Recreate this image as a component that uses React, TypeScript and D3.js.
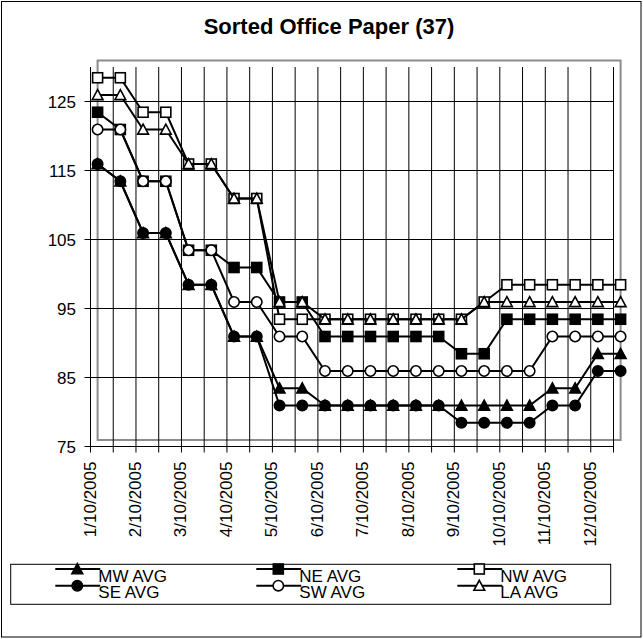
import React from "react";
import * as d3 from "d3";

const categories = [
  "1/10/2005", "1/25/2005", "2/10/2005", "2/25/2005", "3/10/2005", "3/25/2005",
  "4/10/2005", "4/25/2005", "5/10/2005", "5/25/2005", "6/10/2005", "6/25/2005",
  "7/10/2005", "7/25/2005", "8/10/2005", "8/25/2005", "9/10/2005", "9/25/2005",
  "10/10/2005", "10/25/2005", "11/10/2005", "11/25/2005", "12/10/2005", "12/25/2005",
];
const yTicks = [75, 85, 95, 105, 115, 125];

const mwAvg = [115, 112.5, 105, 105, 97.5, 97.5, 90, 90, 82.5, 82.5, 80, 80, 80, 80, 80, 80, 80, 80, 80, 80, 82.5, 82.5, 87.5, 87.5];
const neAvg = [122.5, 120, 112.5, 112.5, 102.5, 102.5, 100, 100, 95, 95, 90, 90, 90, 90, 90, 90, 87.5, 87.5, 92.5, 92.5, 92.5, 92.5, 92.5, 92.5];
const nwAvg = [127.5, 127.5, 122.5, 122.5, 115, 115, 110, 110, 92.5, 92.5, 92.5, 92.5, 92.5, 92.5, 92.5, 92.5, 92.5, 95, 97.5, 97.5, 97.5, 97.5, 97.5, 97.5];
const seAvg = [115, 112.5, 105, 105, 97.5, 97.5, 90, 90, 80, 80, 80, 80, 80, 80, 80, 80, 77.5, 77.5, 77.5, 77.5, 80, 80, 85, 85];
const swAvg = [120, 120, 112.5, 112.5, 102.5, 102.5, 95, 95, 90, 90, 85, 85, 85, 85, 85, 85, 85, 85, 85, 85, 90, 90, 90, 90];
const laAvg = [125, 125, 120, 120, 115, 115, 110, 110, 95, 95, 92.5, 92.5, 92.5, 92.5, 92.5, 92.5, 92.5, 95, 95, 95, 95, 95, 95, 95];

const seriesNames = ["MW AVG", "NE AVG", "NW AVG", "SE AVG", "SW AVG", "LA AVG"];
const seriesValues = [mwAvg, neAvg, nwAvg, seAvg, swAvg, laAvg];
const seriesShapes = ["triangle", "square", "square", "circle", "circle", "triangle"];
const seriesFilled = [true, true, false, true, false, false];

const FONT = "'Liberation Sans', Arial, Helvetica, sans-serif";

function Marker({ shape, filled, cx, cy }: { shape: string; filled: boolean; cx: number; cy: number }) {
  const fill = filled ? "#000" : "#fff";
  const sw = 1.6;
  if (shape === "square") {
    const s = 10;
    return <rect x={cx - s / 2} y={cy - s / 2} width={s} height={s} fill={fill} stroke="#000" strokeWidth={sw} />;
  }
  if (shape === "circle") {
    return <circle cx={cx} cy={cy} r={5.2} fill={fill} stroke="#000" strokeWidth={sw} />;
  }
  const h = 5.4;
  const d = `M${cx},${cy - h}L${cx + h},${cy + h - 0.8}L${cx - h},${cy + h - 0.8}Z`;
  return <path d={d} fill={fill} stroke="#000" strokeWidth={sw} strokeLinejoin="miter" />;
}

export default function App() {
  const W = 643;
  const H = 639;
  const x = d3.scalePoint<string>().domain(categories).range([97.6, 620.6]);
  const y = d3.scaleLinear().domain([75, 130]).range([440, 60.5]);
  const gdx = -7.1;
  const gdy = 6.5;
  const gx = (c: string) => (x(c) as number) + gdx;
  const gy = (v: number) => y(v) + gdy;
  const gLeft = gx(categories[0]);
  const gRight = gx(categories[categories.length - 1]);
  const gTop = gy(130);
  const gBottom = gy(75);

  const line = d3
    .line<number>()
    .x((_, i) => x(categories[i]) as number)
    .y((v) => y(v));

  const legendCols = [77.3, 278.3, 479.3];
  const legendRows = [569, 585.7];

  return (
    <svg width={W} height={H} style={{ position: "absolute", left: 0, top: 0, background: "#fff" }} fontFamily={FONT}>
      <rect x={0} y={0} width={W} height={H} fill="#fff" />
      <rect x={1.5} y={1.5} width={639.5} height={635.5} fill="none" stroke="#000" strokeWidth={1} />
      <text x={329} y={34} textAnchor="middle" fontSize={22} fontWeight="bold">
        Sorted Office Paper (37)
      </text>

      {/* plot area border */}
      <rect
        x={x(categories[0]) as number}
        y={y(130)}
        width={(x(categories[categories.length - 1]) as number) - (x(categories[0]) as number)}
        height={y(75) - y(130)}
        fill="none"
        stroke="#8c8c8c"
        strokeWidth={2}
      />

      {/* grid */}
      {categories.map((c, i) => (
        <line key={"vg" + i} x1={gx(c)} x2={gx(c)} y1={gTop} y2={gBottom + 6} stroke="#000" strokeWidth={1} />
      ))}
      {yTicks.map((t) => (
        <line key={"hg" + t} x1={gLeft - 6} x2={gRight} y1={gy(t)} y2={gy(t)} stroke="#000" strokeWidth={1} />
      ))}
      {yTicks.map((t) => (
        <text key={"yl" + t} x={76} y={gy(t)} dy="0.36em" textAnchor="end" fontSize={17}>
          {t}
        </text>
      ))}
      {categories.map((c, i) =>
        i % 2 === 0 ? (
          <text
            key={"xl" + i}
            transform={`translate(${gx(c) + 5},${gBottom + 15}) rotate(-90)`}
            textAnchor="end"
            fontSize={17}
          >
            {c}
          </text>
        ) : null
      )}

      {/* series */}
      {seriesValues.map((vals, si) => (
        <g key={"s" + si}>
          <path d={line(vals) || ""} fill="none" stroke="#000" strokeWidth={2} />
          {vals.map((v, i) => (
            <Marker
              key={i}
              shape={seriesShapes[si]}
              filled={seriesFilled[si]}
              cx={x(categories[i]) as number}
              cy={y(v)}
            />
          ))}
        </g>
      ))}

      {/* legend */}
      <rect x={10.7} y={564.3} width={600} height={40} fill="none" stroke="#000" strokeWidth={1} />
      {seriesNames.map((name, si) => {
        const col = si % 3;
        const row = Math.floor(si / 3);
        const mx = legendCols[col];
        const my = legendRows[row];
        return (
          <g key={"lg" + si}>
            <line x1={mx - 22} x2={mx + 23} y1={my} y2={my} stroke="#000" strokeWidth={2} />
            <Marker shape={seriesShapes[si]} filled={seriesFilled[si]} cx={mx} cy={my} />
            <text x={mx + 21} y={my + 12.7} fontSize={17}>
              {name}
            </text>
          </g>
        );
      })}
    </svg>
  );
}
